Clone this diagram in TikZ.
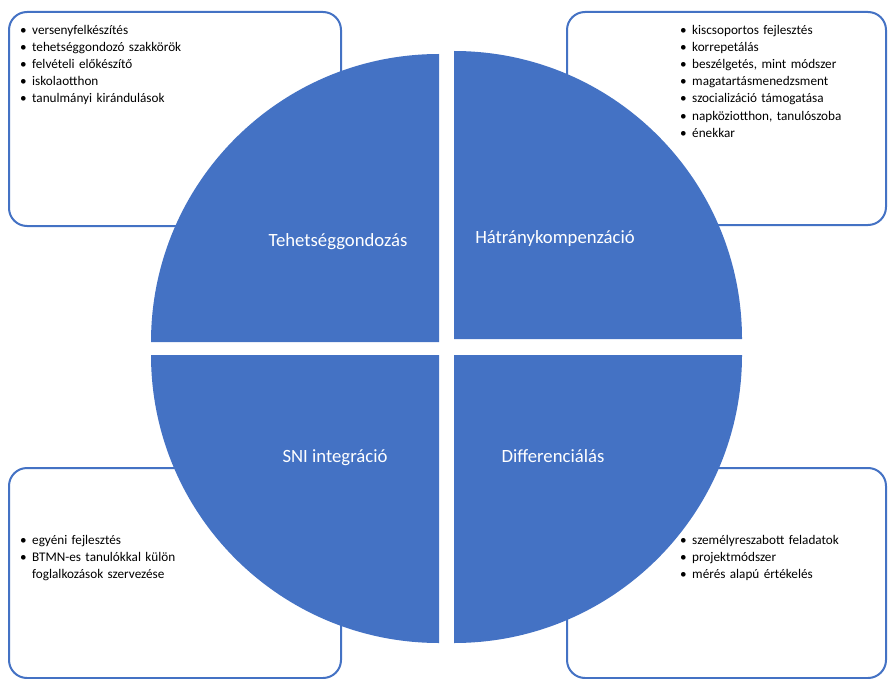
\documentclass[tikz,border=0pt]{standalone}
\usepackage{fontspec}
\setmainfont{Carlito}
\definecolor{accent}{HTML}{4472C4}
\newcommand\blt[1]{\hangindent=13pt\hangafter=1\noindent\makebox[13pt][l]{\kern1pt\textbullet}#1\par}
\tikzset{
  panel/.style={draw=accent, line width=2pt, rounded corners=18pt, fill=white},
  quad/.style={fill=accent},
  qlabel/.style={text=white, font=\fontsize{18.7}{22}\selectfont, anchor=base, inner sep=0pt},
  blist/.style={anchor=north west, inner sep=0pt, text width=300pt, align=left,
    font=\fontsize{13.2}{17.2}\selectfont},
}
\begin{document}
\begin{tikzpicture}[x=1pt,y=1pt]
\useasboundingbox (0,0) rectangle (888,-679);

% outlined panels behind the circle
\draw[panel] (9,-12) rectangle (341,-226);
\draw[panel] (567,-12) rectangle (886,-225);
\draw[panel] (9,-468) rectangle (341,-678);
\draw[panel] (567,-468) rectangle (886,-678);

% bullet lists
\node[blist] (ltl) at (19,-23) {\rule{0pt}{11pt}%
  \blt{versenyfelkészítés}
  \blt{tehetséggondozó szakkörök}
  \blt{felvételi előkészítő}
  \blt{iskolaotthon}
  \blt{tanulmányi kirándulások}};
\node[blist] (ltr) at (679,-23) {\rule{0pt}{11pt}%
  \blt{kiscsoportos fejlesztés}
  \blt{korrepetálás}
  \blt{beszélgetés, mint módszer}
  \blt{magatartásmenedzsment}
  \blt{szocializáció támogatása}
  \blt{napköziotthon, tanulószoba}
  \blt{énekkar}};
\node[blist, text width=180pt] (lbl) at (19,-533) {\rule{0pt}{11pt}%
  \blt{egyéni fejlesztés}
  \blt{BTMN-es tanulókkal külön foglalkozások szervezése}};
\node[blist] (lbr) at (679,-533) {\rule{0pt}{11pt}%
  \blt{személyreszabott feladatok}
  \blt{projektmódszer}
  \blt{mérés alapú értékelés}};

% four quarter discs
\coordinate (ctl) at (439,-342);
\coordinate (ctr) at (454,-339);
\coordinate (cbl) at (439,-355);
\coordinate (cbr) at (454,-355);
\fill[quad] (ctl) -- ++(-288,0) arc[start angle=180, end angle=90, radius=288] -- cycle;
\fill[quad] (ctr) -- ++(0,288) arc[start angle=90, end angle=0, radius=288] -- cycle;
\fill[quad] (cbr) -- ++(288,0) arc[start angle=0, end angle=-90, radius=288] -- cycle;
\fill[quad] (cbl) -- ++(0,-288) arc[start angle=-90, end angle=-180, radius=288] -- cycle;

% quadrant titles
\node[qlabel] (ttl) at (338,-246) {Tehetséggondozás};
\node[qlabel] (ttr) at (555,-243) {Hátránykompenzáció};
\node[qlabel] (tbl) at (335,-462) {SNI integráció};
\node[qlabel] (tbr) at (553,-462) {Differenciálás};
\end{tikzpicture}
\end{document}
